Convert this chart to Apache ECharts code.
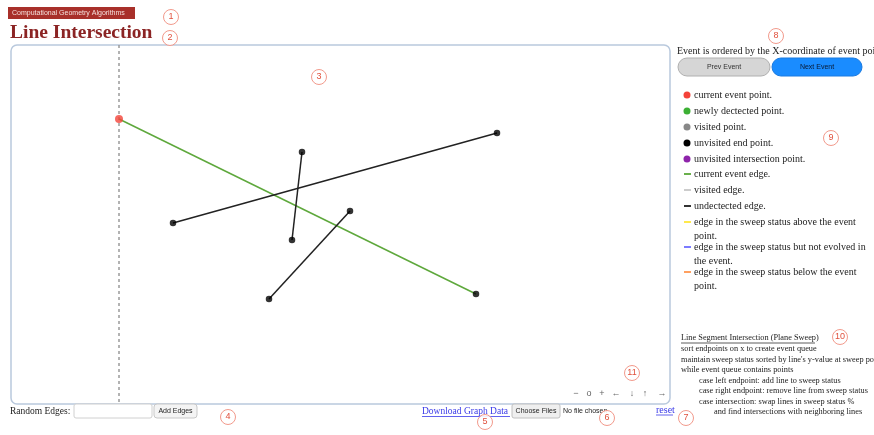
<!DOCTYPE html>
<html>
<head>
<meta charset="utf-8">
<script src="https://cdn.jsdelivr.net/npm/echarts@6/dist/echarts.min.js"></script>
<style>html,body{margin:0;padding:0;background:#fff;}#c{width:874px;height:435px;}</style>
</head>
<body>
<div id="c"></div>
<script>
// ---- data (canvas coordinates of the drawing area, y grows downward) ----
const sweepX = 108;
const currentEdge = [[108, 74], [465, 249]];
const edgeA = [[162, 178], [486, 88]];
const edgeB = [[291, 107], [281, 195]];
const edgeC = [[258, 254], [339, 166]];
const currentPoint = [[108, 74]];
const unvisitedPoints = [[465, 249], [162, 178], [486, 88], [291, 107], [281, 195], [258, 254], [339, 166]];

const pointLegend = ['current event point.', 'newly dectected point.', 'visited point.', 'unvisited end point.', 'unvisited intersection point.'];
const pointLegendColors = ['#f4433a', '#3cb034', '#888888', '#000000', '#8e24aa'];
const edgeLegend = [
  ['current event edge.'],
  ['visited edge.'],
  ['undectected edge.'],
  ['edge in the sweep status above the event', 'point.'],
  ['edge in the sweep status but not evolved in', 'the event.'],
  ['edge in the sweep status below the event', 'point.']
];
const edgeLegendColors = ['#6ab04c', '#cccccc', '#333333', '#ffe94d', '#7b7bff', '#ffa060'];
const pseudoCode = [
  'sort endpoints on x to create event queue',
  'maintain sweep status sorted by line\'s y-value at sweep point',
  'while event queue contains points',
  'case left endpoint: add line to sweep status',
  'case right endpoint: remove line from sweep status',
  'case intersection: swap lines in sweep status %',
  'and find intersections with neighboring lines'
];
const navControls = ['\u2212', 'o', '+', '\u2190', '\u2193', '\u2191', '\u2192'];
const markers = [['1',171,17],['2',170,38],['3',319,77],['4',228,417],['5',485,422],['6',607,418],['7',686,418],['8',776,36],['9',831,138],['10',840,337],['11',632,373]];

// ---- chart ----
const serif = '"Liberation Serif","DejaVu Serif",serif';
const sans = '"Liberation Sans","DejaVu Sans",sans-serif';
const g = [];

// header
g.push({type:'rect', shape:{x:8,y:7,width:127,height:12}, style:{fill:'#a8302a'}});
g.push({type:'text', x:12, y:13, style:{text:'Computational Geometry Algorithms', fill:'#f5e0dc', font:'7px '+sans, verticalAlign:'middle'}});
g.push({type:'text', x:10, y:33, style:{text:'Line Intersection', fill:'#8b2424', font:'bold 19.5px '+serif, verticalAlign:'middle'}});

// drawing box
g.push({type:'rect', shape:{x:11,y:45,width:659,height:359,r:6}, style:{fill:'none', stroke:'#b9c9dd', lineWidth:1.5}});

// right panel
g.push({type:'text', x:677, y:51, style:{text:'Event is ordered by the X-coordinate of event point', fill:'#222', font:'10px '+serif, verticalAlign:'middle'}});
g.push({type:'rect', shape:{x:678,y:58,width:92,height:18,r:9}, style:{fill:'#d6d6d6', stroke:'#b0b0b0', lineWidth:1}});
g.push({type:'text', x:724, y:67, style:{text:'Prev Event', fill:'#333', font:'7px '+sans, align:'center', verticalAlign:'middle'}});
g.push({type:'rect', shape:{x:772,y:58,width:90,height:18,r:9}, style:{fill:'#1a8cff', stroke:'#1a7ae0', lineWidth:1}});
g.push({type:'text', x:817, y:67, style:{text:'Next Event', fill:'#0a1a33', font:'7px '+sans, align:'center', verticalAlign:'middle'}});

const dotY = [95, 111, 127, 143, 159];
pointLegend.forEach((t, i) => {
  g.push({type:'circle', shape:{cx:687, cy:dotY[i], r:3.5}, style:{fill:pointLegendColors[i]}});
  g.push({type:'text', x:694, y:dotY[i], style:{text:t, fill:'#222', font:'10px '+serif, verticalAlign:'middle'}});
});
const edgeY = [174, 190, 206, 222, 247, 272];
edgeLegend.forEach((lines, i) => {
  g.push({type:'line', shape:{x1:684, y1:edgeY[i], x2:691, y2:edgeY[i]}, style:{stroke:edgeLegendColors[i], lineWidth:2}});
  lines.forEach((t, j) => {
    g.push({type:'text', x:694, y:edgeY[i] + j*14, style:{text:t, fill:'#222', font:'10px '+serif, verticalAlign:'middle'}});
  });
});

// pseudo code
g.push({type:'text', x:681, y:338, style:{text:'Line Segment Intersection (Plane Sweep)', fill:'#222', font:'8.3px '+serif, verticalAlign:'middle'}});
g.push({type:'line', shape:{x1:681, y1:343, x2:815, y2:343}, style:{stroke:'#333', lineWidth:0.8}});
const codeX = [681, 681, 681, 699, 699, 699, 714];
pseudoCode.forEach((t, i) => {
  g.push({type:'text', x:codeX[i], y:349 + i*10.5, style:{text:t, fill:'#222', font:'8.3px '+serif, verticalAlign:'middle'}});
});

// bottom controls
g.push({type:'text', x:10, y:411, style:{text:'Random Edges:', fill:'#222', font:'9.5px '+serif, verticalAlign:'middle'}});
g.push({type:'rect', shape:{x:74,y:404,width:78,height:14,r:2}, style:{fill:'#fff', stroke:'#d0d0d0', lineWidth:1}});
g.push({type:'rect', shape:{x:154,y:404,width:43,height:14,r:3}, style:{fill:'#f4f4f4', stroke:'#c8c8c8', lineWidth:1}});
g.push({type:'text', x:175.5, y:411, style:{text:'Add Edges', fill:'#222', font:'7px '+sans, align:'center', verticalAlign:'middle'}});
g.push({type:'text', x:422, y:411, style:{text:'Download Graph Data', fill:'#3a3ae8', font:'9.5px '+serif, verticalAlign:'middle'}});
g.push({type:'line', shape:{x1:422, y1:416.5, x2:510, y2:416.5}, style:{stroke:'#3a3ae8', lineWidth:0.8}});
g.push({type:'rect', shape:{x:512,y:404,width:48,height:14,r:2}, style:{fill:'#efefef', stroke:'#c0c0c0', lineWidth:1}});
g.push({type:'text', x:536, y:411, style:{text:'Choose Files', fill:'#222', font:'7px '+sans, align:'center', verticalAlign:'middle'}});
g.push({type:'text', x:563, y:411, style:{text:'No file chosen', fill:'#222', font:'7px '+sans, verticalAlign:'middle'}});
g.push({type:'text', x:656, y:410, style:{text:'reset', fill:'#3a3ae8', font:'10px '+serif, verticalAlign:'middle'}});
g.push({type:'line', shape:{x1:656, y1:415, x2:673, y2:415}, style:{stroke:'#3a3ae8', lineWidth:0.8}});

// nav controls
const navX = [576, 589, 602, 616, 632, 645, 662];
navControls.forEach((t, i) => {
  g.push({type:'text', x:navX[i], y:394, style:{text:t, fill:'#666', font:'9px '+sans, align:'center', verticalAlign:'middle'}});
});

// annotation markers
markers.forEach(m => {
  g.push({type:'circle', shape:{cx:m[1], cy:m[2], r:7.5}, style:{fill:'rgba(255,255,255,0.9)', stroke:'#f29a8c', lineWidth:1}, z:200});
  g.push({type:'text', x:m[1], y:m[2], style:{text:m[0], fill:'#e0503c', font:'9px '+sans, align:'center', verticalAlign:'middle'}, z:201});
});

const chart = echarts.init(document.getElementById('c'), null, {renderer:'canvas'});
const seg = (d, color) => ({type:'line', data:d, symbol:'none', lineStyle:{color:color, width:1.5}, silent:true, z:2});
chart.setOption({
  animation:false,
  backgroundColor:'#fff',
  grid:{left:11, top:45, width:659, height:359, show:false},
  xAxis:{type:'value', min:0, max:659, show:false},
  yAxis:{type:'value', min:0, max:359, inverse:true, show:false},
  graphic:g,
  series:[
    {type:'line', data:[[sweepX,0],[sweepX,359]], symbol:'none', lineStyle:{color:'#9a9a9a', width:1.5, type:[3,3]}, z:1},
    seg(currentEdge, '#5ea83c'),
    seg(edgeA, '#222'),
    seg(edgeB, '#222'),
    seg(edgeC, '#222'),
    {type:'scatter', data:unvisitedPoints, symbolSize:6.5, itemStyle:{color:'#000'}, z:3},
    {type:'scatter', data:currentPoint, symbolSize:8, itemStyle:{color:'#f4433a'}, z:4}
  ]
});
</script>
</body>
</html>
